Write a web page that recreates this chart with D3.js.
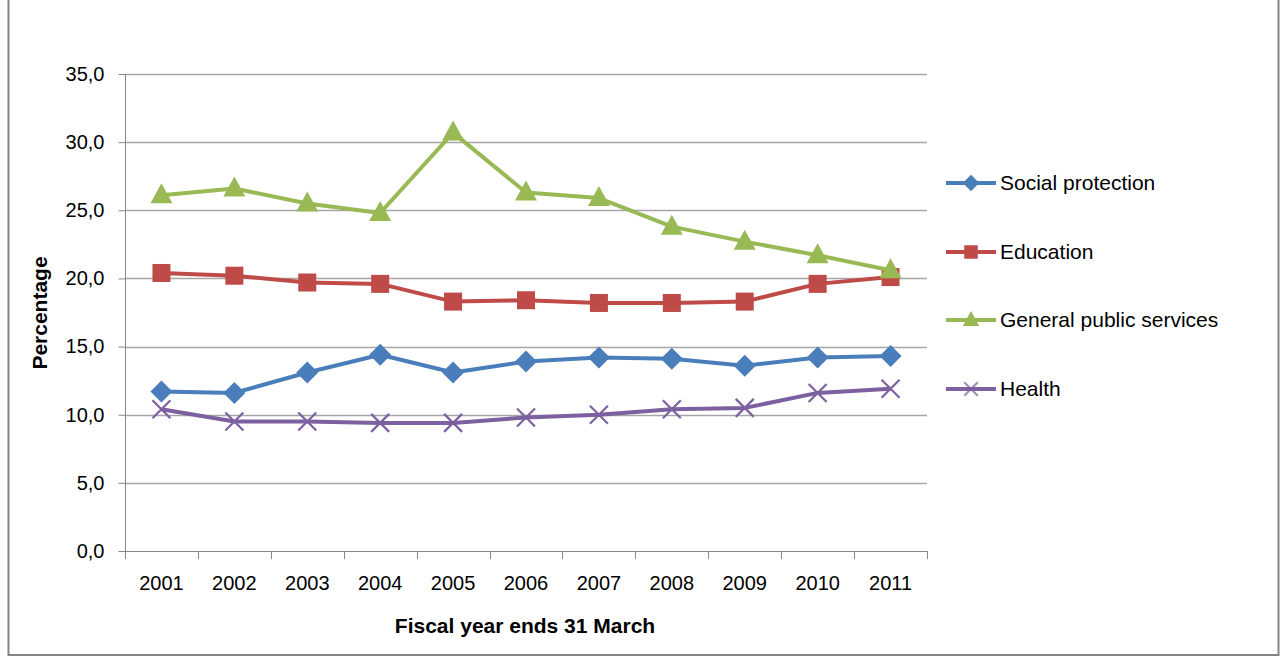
<!DOCTYPE html>
<html>
<head>
<meta charset="utf-8">
<title>Expenditure shares</title>
<script src="https://d3js.org/d3.v7.min.js"></script>
<style>
  body { margin: 0; background: #fff; }
  svg text { font-family: "Liberation Sans", Arial, sans-serif; fill: #000; }
  .tick text { font-size: 20px; }
  .legend text { font-size: 21px; }
</style>
</head>
<body>
<script>

var years = ["2001","2002","2003","2004","2005","2006","2007","2008","2009","2010","2011"];
var seriesNames = ["Social protection", "Education", "General public services", "Health"];
var socialProtection = [11.7, 11.6, 13.1, 14.4, 13.1, 13.9, 14.2, 14.1, 13.6, 14.2, 14.3];
var education        = [20.4, 20.2, 19.7, 19.6, 18.3, 18.4, 18.2, 18.2, 18.3, 19.6, 20.1];
var generalPublic    = [26.1, 26.6, 25.5, 24.8, 30.7, 26.3, 25.9, 23.8, 22.7, 21.7, 20.6];
var health           = [10.4, 9.5, 9.5, 9.4, 9.4, 9.8, 10.0, 10.4, 10.5, 11.6, 11.9];
var yTicks = [0, 5, 10, 15, 20, 25, 30, 35];

var series = [
  { name: seriesNames[0], values: socialProtection, color: "#4a7ebb", marker: "diamond" },
  { name: seriesNames[1], values: education, color: "#be4b48", marker: "square" },
  { name: seriesNames[2], values: generalPublic, color: "#98b954", marker: "triangle" },
  { name: seriesNames[3], values: health, color: "#7d60a0", marker: "cross" }
];

var width = 1282, height = 658;
var plotLeft = 125, plotRight = 927, plotTop = 74, plotBottom = 551;

var svg = d3.select("body").append("svg")
    .attr("width", width)
    .attr("height", height);

// outer frame
svg.append("rect")
    .attr("x", 8.5).attr("y", -2)
    .attr("width", 1270).attr("height", 657)
    .attr("fill", "none")
    .attr("stroke", "#868686")
    .attr("stroke-width", 2);

var x = d3.scaleBand().domain(years).range([plotLeft, plotRight]);
var y = d3.scaleLinear().domain([0, 35]).range([plotBottom, plotTop]);

// gridlines
svg.append("g").selectAll("line")
    .data(yTicks.filter(function(d) { return d > 0; }))
  .enter().append("line")
    .attr("x1", plotLeft).attr("x2", plotRight)
    .attr("y1", function(d) { return Math.round(y(d)) + 0.5; })
    .attr("y2", function(d) { return Math.round(y(d)) + 0.5; })
    .attr("stroke", "#a6a6a6")
    .attr("stroke-width", 1.3);

var yAxis = svg.append("g")
    .attr("transform", "translate(" + (plotLeft + 0.5) + ",0)")
    .call(d3.axisLeft(y).tickValues(yTicks).tickSize(7).tickPadding(14)
      .tickFormat(function(d) { return d3.format(".1f")(d).replace(".", ","); }));

var xAxis = svg.append("g")
    .attr("transform", "translate(0," + (plotBottom + 0.5) + ")")
    .call(d3.axisBottom(x).tickSize(0).tickPadding(24));

// x tick marks at category boundaries
svg.append("g").selectAll("line")
    .data(years.concat(["end"]))
  .enter().append("line")
    .attr("x1", function(d, i) { return Math.round(plotLeft + i * x.step()) + 0.5; })
    .attr("x2", function(d, i) { return Math.round(plotLeft + i * x.step()) + 0.5; })
    .attr("y1", plotBottom).attr("y2", plotBottom + 8)
    .attr("stroke", "#868686");

svg.selectAll(".domain").attr("stroke", "#868686");
svg.selectAll(".tick line").attr("stroke", "#868686");
xAxis.select(".domain").attr("d", "M" + plotLeft + ",0H" + plotRight);
yAxis.select(".domain").attr("d", "M0," + plotBottom + "V" + plotTop);

// axis titles
svg.append("text")
    .attr("x", 525).attr("y", 633)
    .attr("text-anchor", "middle")
    .style("font-size", "21px").style("font-weight", "bold")
    .text("Fiscal year ends 31 March");

svg.append("text")
    .attr("transform", "translate(47,313) rotate(-90)")
    .attr("text-anchor", "middle")
    .style("font-size", "21px").style("font-weight", "bold")
    .text("Percentage");

var line = d3.line()
    .x(function(d, i) { return x(years[i]) + x.bandwidth() / 2; })
    .y(function(d) { return y(d); });

function drawMarker(g, type, color, k) {
  k = k || 1;
  if (type === "diamond") {
    g.append("path").attr("d", "M0,-11L11,0L0,11L-11,0Z").attr("fill", color)
      .attr("transform", "scale(" + k + ")");
  } else if (type === "square") {
    g.append("rect").attr("x", -9).attr("y", -9).attr("width", 18).attr("height", 18).attr("fill", color)
      .attr("transform", "scale(" + k + ")");
  } else if (type === "triangle") {
    g.append("path").attr("d", "M0,-12L11,8L-11,8Z").attr("fill", color)
      .attr("transform", "scale(" + k + ")");
  } else {
    g.append("path").attr("d", "M-9,-9L9,9M-9,9L9,-9")
      .attr("stroke", color).attr("stroke-width", 2.2 / k).attr("fill", "none")
      .attr("stroke-opacity", k < 1 ? 0.7 : 1)
      .attr("transform", "scale(" + k + ")");
  }
}

series.forEach(function(s) {
  svg.append("path")
      .datum(s.values)
      .attr("d", line)
      .attr("fill", "none")
      .attr("stroke", s.color)
      .attr("stroke-width", 4)
      .attr("stroke-linejoin", "round");

  svg.append("g").selectAll("g")
      .data(s.values)
    .enter().append("g")
      .attr("transform", function(d, i) {
        return "translate(" + (x(years[i]) + x.bandwidth() / 2) + "," + y(d) + ")";
      })
      .each(function() { drawMarker(d3.select(this), s.marker, s.color); });
});

// legend
var legend = svg.append("g").attr("class", "legend");
var legendY = [183, 252, 320, 389];
series.forEach(function(s, i) {
  var g = legend.append("g").attr("transform", "translate(946," + legendY[i] + ")");
  g.append("line").attr("x1", 0).attr("x2", 50).attr("y1", 0).attr("y2", 0)
      .attr("stroke", s.color).attr("stroke-width", 4);
  var m = g.append("g").attr("transform", "translate(25,0)");
  drawMarker(m, s.marker, s.color, 0.75);
  g.append("text").attr("x", 54).attr("y", 7).text(s.name);
});

</script>
</body>
</html>
